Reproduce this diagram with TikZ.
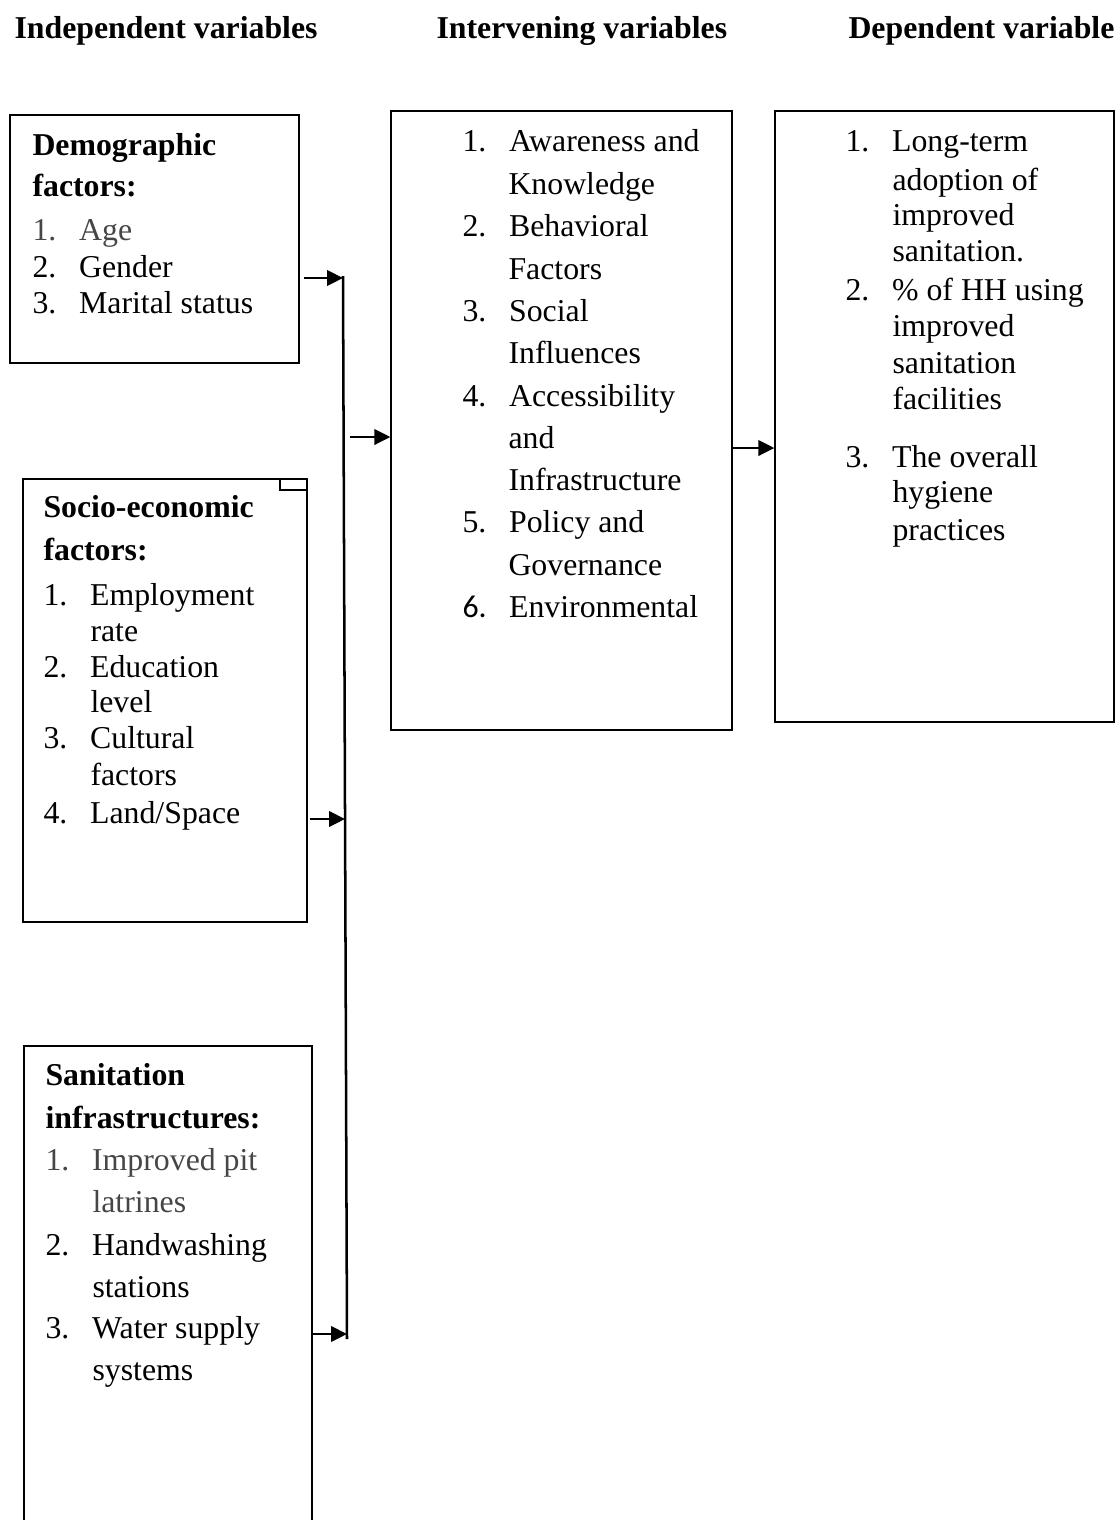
\documentclass[tikz,border=0pt]{standalone}
\usepackage{fontspec}
\setmainfont{Liberation Serif}
\newfontfamily\calibrifont{Carlito}
\usetikzlibrary{arrows.meta,fit,calc}
\definecolor{itemgray}{RGB}{70,70,70}
\newcommand\listno[1]{\makebox[17.6pt][l]{#1}}
\begin{document}
\begin{tikzpicture}[x=0.3774pt,y=-0.3774pt,
  box/.style={draw,line width=0.5pt,inner sep=0pt},
  txt/.style={anchor=base west,inner sep=0pt,font=\fontsize{12pt}{14pt}\selectfont},
  hdr/.style={anchor=base west,inner sep=0pt,font=\fontsize{12pt}{14pt}\selectfont\bfseries},
  conn/.style={line width=0.95pt,-{Triangle[length=6pt,width=5.8pt]}},
  busline/.style={line width=0.95pt}]
\useasboundingbox (0,0) rectangle (1115,1520);
\clip (0,0) rectangle (1115,1520);
\fill[white] (0,0) rectangle (1115,1520);

% headers
\node[hdr] (hInd) at (14,38) {Independent variables};
\node[hdr] (hInt) at (436,38) {Intervening variables};
\node[hdr] (hDep) at (848,38) {Dependent variable};

% boxes
\node[box,fit={(10,115)(299,363)}] (demo) {};
\node[box,fit={(23,479)(307,922)}] (socio) {};
\node[box,fit={(280,479)(307,490)}] (sociotab) {};
\node[box,fit={(24,1046)(312,1545)}] (sanit) {};
\node[box,fit={(391,111)(732,730)}] (interv) {};
\node[box,fit={(775,111)(1114,722)}] (dep) {};

% box 1
\node[hdr] (d0) at (32,155) {Demographic};
\node[hdr] (d1) at (32,196) {factors:};
\node[txt,text=itemgray] (d2) at (32,240) {\listno{1.}Age};
\node[txt] (d3) at (32,277) {\listno{2.}Gender};
\node[txt] (d4) at (32,313) {\listno{3.}Marital status};

% box 2
\node[hdr] (s0) at (43,517) {Socio-economic};
\node[hdr] (s1) at (43,560) {factors:};
\node[txt] (s2) at (43,605) {\listno{1.}Employment};
\node[txt] (s3) at (90,641) {rate};
\node[txt] (s4) at (43,677) {\listno{2.}Education};
\node[txt] (s5) at (90,712) {level};
\node[txt] (s6) at (43,748) {\listno{3.}Cultural};
\node[txt] (s7) at (90,785) {factors};
\node[txt] (s8) at (43,823) {\listno{4.}Land/Space};

% box 3
\node[hdr] (t0) at (45,1085) {Sanitation};
\node[hdr] (t1) at (45,1128) {infrastructures:};
\node[txt,text=itemgray] (t2) at (45,1170) {\listno{1.}Improved pit};
\node[txt,text=itemgray] (t3) at (92,1212) {latrines};
\node[txt] (t4) at (45,1255) {\listno{2.}Handwashing};
\node[txt] (t5) at (92,1297) {stations};
\node[txt] (t6) at (45,1338) {\listno{3.}Water supply};
\node[txt] (t7) at (92,1380) {systems};

% box 4
\node[txt] (i1) at (462,151) {\listno{1.}Awareness and};
\node[txt] (i2) at (508,194) {Knowledge};
\node[txt] (i3) at (462,236) {\listno{2.}Behavioral};
\node[txt] (i4) at (508,279) {Factors};
\node[txt] (i5) at (462,321) {\listno{3.}Social};
\node[txt] (i6) at (508,363) {Influences};
\node[txt] (i7) at (462,406) {\listno{4.}Accessibility};
\node[txt] (i8) at (508,448) {and};
\node[txt] (i9) at (508,490) {Infrastructure};
\node[txt] (i10) at (462,532) {\listno{5.}Policy and};
\node[txt] (i11) at (508,575) {Governance};
\node[txt] (i12) at (462,617) {\listno{\calibrifont 6.}Environmental};

% box 5
\node[txt] (o1) at (845,151) {\listno{1.}Long-term};
\node[txt] (o2) at (892,190) {adoption of};
\node[txt] (o3) at (892,225) {improved};
\node[txt] (o4) at (892,261) {sanitation.};
\node[txt] (o5) at (845,300) {\listno{2.}\% of HH using};
\node[txt] (o6) at (892,336) {improved};
\node[txt] (o7) at (892,373) {sanitation};
\node[txt] (o8) at (892,409) {facilities};
\node[txt] (o9) at (845,467) {\listno{3.}The overall};
\node[txt] (o10) at (892,502) {hygiene};
\node[txt] (o11) at (892,540) {practices};

% connectors
\coordinate (busT) at (343,276);
\coordinate (busB) at (347,1339);
\draw[busline] (busT) -- (busB);
\coordinate (j1) at (343,278);
\coordinate (j2) at (345,819);
\coordinate (j3) at (347,1334);
\draw[conn] ($(demo.east |- j1)+(4,0)$) -- (j1);
\draw[conn] ($(socio.east |- j2)+(2,0)$) -- (j2);
\draw[conn] (sanit.east |- j3) -- (j3);
\coordinate (j4) at (350,437);
\draw[conn] (j4) -- (interv.west |- j4);
\coordinate (j5) at (733,448);
\draw[conn] (interv.east |- j5) -- (dep.west |- j5);
\end{tikzpicture}
\end{document}
